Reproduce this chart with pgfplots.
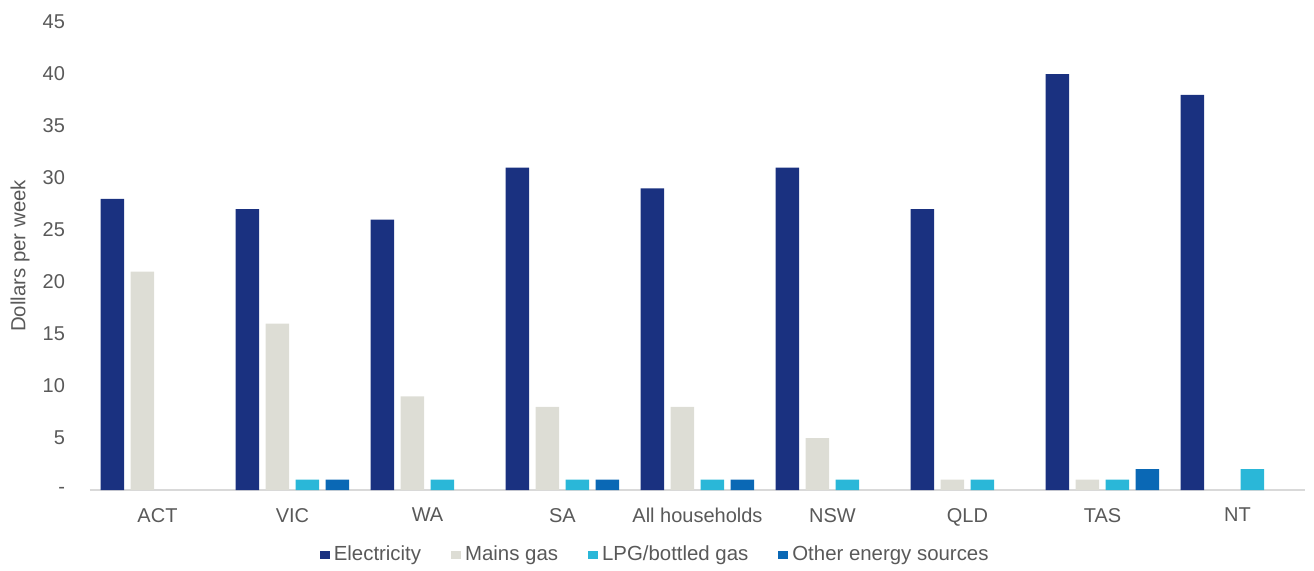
\documentclass[border=0pt]{standalone}
\usepackage{pgfplots}
\pgfplotsset{compat=1.18}
\usepackage{fontspec}
\setmainfont{Liberation Sans}

\definecolor{elec}{HTML}{1A3180}
\definecolor{mains}{HTML}{DDDDD5}
\definecolor{lpg}{HTML}{2AB7D8}
\definecolor{other}{HTML}{0A68B5}
\definecolor{txt}{HTML}{595959}
\definecolor{axisline}{HTML}{D9D9D9}

\begin{document}
\begin{tikzpicture}[x=1pt,y=1pt]
\path[use as bounding box] (-45,-40) rectangle (612,245);
\begin{axis}[
  at={(0,0)}, anchor=south west,
  scale only axis, width=607.5pt, height=234pt,
  ybar=3.25pt, bar width=11.75pt,
  xmin=-0.5, xmax=8.5, ymin=0, ymax=45,
  xtick={0,...,8},
  xticklabels={ACT,VIC,WA,SA,All households,NSW,QLD,TAS,NT},
  ytick={0,5,...,45},
  yticklabels={-,5,10,15,20,25,30,35,40,45},
  axis x line*=bottom, axis y line*=left,
  x axis line style={draw=axisline, line width=1pt, -},
  y axis line style={draw=none},
  major tick length=0pt,
  tick label style={font=\fontsize{10}{12}\selectfont, text=txt},
  xticklabel style={yshift=-5.5pt},
  yticklabel style={xshift=-9pt},
  /pgf/number format/assume math mode=true,
  ylabel={Dollars per week},
  every axis y label/.style={at={(axis description cs:-0.0576,0.5)}, rotate=90, anchor=center},
  label style={font=\fontsize{10.2}{12}\selectfont, text=txt},
  legend style={at={(axis description cs:0.466,-0.139)}, anchor=center,
    draw=none, fill=none, legend columns=4,
    font=\fontsize{10.2}{12}\selectfont, text=txt,
    /tikz/every even column/.append style={column sep=13pt}},
  legend image code/.code={\fill[#1] (0pt,-2pt) rectangle (5pt,2pt);},
  unbounded coords=discard,
]
% weekly spend by state, one series per energy source (missing bars are nan)
\addplot[fill=elec, draw=none] coordinates {(0,28) (1,27) (2,26) (3,31) (4,29) (5,31) (6,27) (7,40) (8,38)};
\addplot[fill=mains, draw=none] coordinates {(0,21) (1,16) (2,9) (3,8) (4,8) (5,5) (6,1) (7,1) (8,nan)};
\addplot[fill=lpg, draw=none] coordinates {(0,nan) (1,1) (2,1) (3,1) (4,1) (5,1) (6,1) (7,1) (8,2)};
\addplot[fill=other, draw=none] coordinates {(0,nan) (1,1) (2,nan) (3,1) (4,1) (5,nan) (6,nan) (7,2) (8,nan)};
\legend{Electricity, Mains gas, LPG/bottled gas, Other energy sources}
\end{axis}
\end{tikzpicture}
\end{document}
